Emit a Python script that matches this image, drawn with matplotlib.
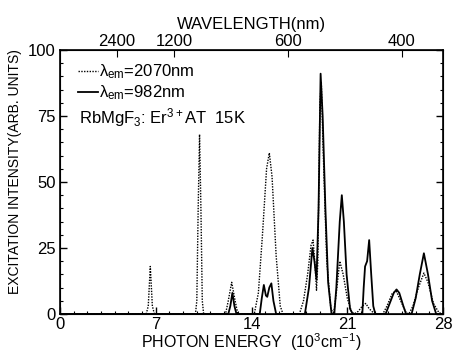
import matplotlib
matplotlib.use("Agg")
import matplotlib.pyplot as plt
from matplotlib.ticker import MultipleLocator

plt.rcParams['font.family'] = ['Liberation Sans', 'DejaVu Sans']
plt.rcParams['mathtext.fontset'] = 'custom'
plt.rcParams['mathtext.rm'] = 'Liberation Sans'
plt.rcParams['mathtext.it'] = 'Liberation Sans'

# photon energy (10^3 cm^-1) and intensity
e_2070 = [0, 6.3, 6.45, 6.6, 6.75, 6.9, 9.9, 10.0, 10.1, 10.2, 10.3, 10.4, 10.5,
          12.1, 12.3, 12.55, 12.8, 13.0, 14.2, 14.5, 14.8, 15.1, 15.3, 15.5, 15.8,
          16.1, 16.3, 17.5, 17.8, 18.1, 18.35, 18.5, 18.65, 18.75, 18.85, 19.0,
          19.1, 19.25, 19.5, 19.8, 20.0, 20.2, 20.45, 20.7, 21.0, 21.3, 21.5, 21.8,
          22.1, 22.35, 22.6, 23.0, 23.6, 23.9, 24.3, 24.6, 24.9, 25.3, 25.5, 25.8,
          26.2, 26.6, 26.9, 27.3, 27.7, 28]
i_2070 = [0, 0, 3, 18, 3, 0, 0, 5, 40, 68, 40, 5, 0,
          0, 5, 12, 5, 0, 0, 8, 30, 55, 61, 52, 22,
          3, 0, 0, 5, 15, 26, 28, 18, 9, 20, 80,
          88, 60, 20, 2, 0, 8, 20, 15, 6, 1, 0, 1,
          3, 4, 2, 0, 0, 3, 8, 8.5, 5, 0.5, 0, 3,
          10, 15.5, 12, 4, 0.5, 0]

e_982 = [0, 12.3, 12.45, 12.6, 12.75, 12.9, 14.6, 14.75, 14.9, 15.05, 15.15, 15.3,
         15.45, 15.6, 15.8, 17.9, 18.2, 18.45, 18.6, 18.75, 18.9, 19.05, 19.2,
         19.4, 19.6, 19.85, 20.05, 20.2, 20.45, 20.6, 20.75, 20.95, 21.2, 21.4,
         22.1, 22.2, 22.3, 22.45, 22.6, 22.75, 22.9, 23.05, 23.8, 24.1, 24.4, 24.6,
         24.8, 25.1, 25.3, 25.7, 26.0, 26.3, 26.6, 26.9, 27.2, 27.5, 28]
i_982 = [0, 0, 3, 8, 3, 0, 0, 6, 11, 7, 6.5, 10,
         11.6, 5, 0, 0, 10, 25, 20, 13, 40, 91, 75,
         40, 12, 0, 0, 10, 35, 45, 35, 15, 2, 0,
         0, 10, 18, 20, 28, 15, 3, 0, 0, 4, 8, 9.3,
         8, 3, 0, 0, 6, 15, 23, 15, 5, 0, 0]

wavelengths = [2400, 1200, 600, 400]

fs = 12
fig = plt.figure(figsize=(4.53, 3.54), dpi=100)
ax = fig.add_axes([0.1325, 0.113, 0.8455, 0.746])

ax.plot(e_2070, i_2070, color='black', lw=1.0, ls=(0, (1, 1)), label=r'$\lambda_{em}$=2070nm')
ax.plot(e_982, i_982, color='black', lw=1.3, label=r'$\lambda_{em}$=982nm')

ax.set_xlim(0, 28)
ax.set_ylim(0, 100)
ax.xaxis.set_major_locator(MultipleLocator(7))
ax.xaxis.set_minor_locator(MultipleLocator(1))
ax.yaxis.set_major_locator(MultipleLocator(25))
ax.yaxis.set_minor_locator(MultipleLocator(5))
ax.tick_params(which='both', direction='in', labelsize=fs, right=True)
ax.tick_params(which='major', length=5, width=1)
ax.tick_params(which='minor', length=2.5, width=0.8)
ax.tick_params(axis='x', pad=2)
ax.tick_params(axis='y', pad=3)
for s in ax.spines.values():
    s.set_linewidth(1.2)

ax.set_xlabel(r'PHOTON ENERGY  (10$^3$cm$^{-1}$)', fontsize=11.5, labelpad=0)
ax.set_ylabel('EXCITATION INTENSITY(ARB. UNITS)', fontsize=10)
ax.yaxis.set_label_coords(-0.1, 0.54)

top = ax.twiny()
top.set_xlim(ax.get_xlim())
top.set_xticks([1e4 / w for w in wavelengths])
top.set_xticklabels([str(w) for w in wavelengths])
top.tick_params(direction='in', labelsize=fs, length=5, pad=1)
top.set_xlabel('WAVELENGTH(nm)', fontsize=fs, labelpad=3)

ax.legend(loc='upper left', frameon=False, fontsize=fs, handlelength=1.2,
          handletextpad=0.05, borderaxespad=0.2, labelspacing=0.15,
          bbox_to_anchor=(0.02, 0.99))
ax.text(0.05, 0.745, r'RbMgF$_3$: Er$^{3+}$AT  15K', transform=ax.transAxes,
        fontsize=fs, va='center')

fig.savefig('out.png', dpi=100)
